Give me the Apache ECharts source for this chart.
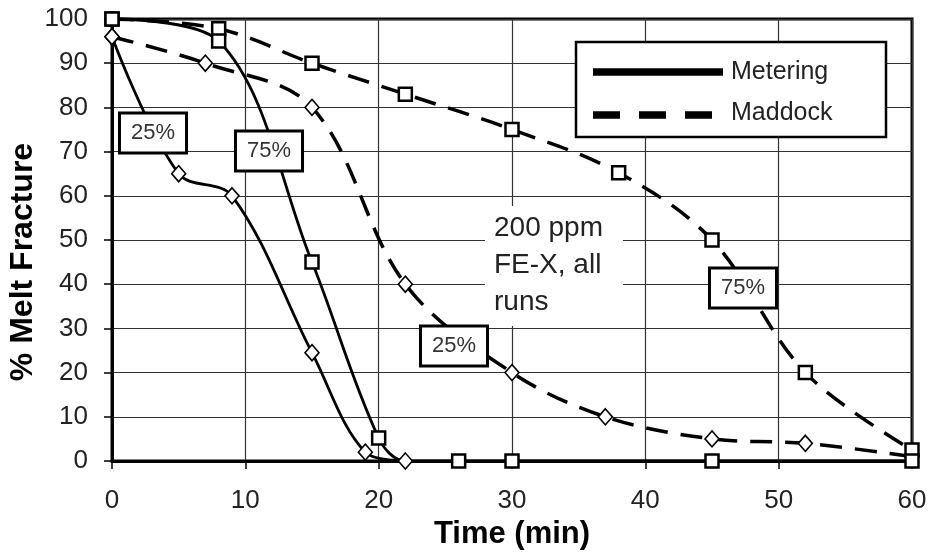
<!DOCTYPE html>
<html>
<head>
<meta charset="utf-8">
<script src="https://cdn.jsdelivr.net/npm/echarts@6/dist/echarts.min.js"></script>
<style>
  html, body { margin: 0; padding: 0; background: #fff; }
  #chart { width: 930px; height: 552px; }
</style>
</head>
<body>
<div id="chart"></div>
<script>
// axis ticks
var xTicks = [0, 10, 20, 30, 40, 50, 60];
var yTicks = [0, 10, 20, 30, 40, 50, 60, 70, 80, 90, 100];

// [time, % melt fracture]
var meteringLow = [[0, 96], [5, 65], [9, 60], [15, 24.5], [19, 2], [22, 0]];
var meteringHigh = [[0, 100], [8, 95], [15, 45], [20, 5.2], [22, 0, 'none'], [26, 0], [30, 0], [45, 0], [60, 0]];
var maddockLow = [[0, 96], [7, 90], [15, 80], [22, 40], [30, 20], [37, 10], [45, 5], [52, 4], [60, 1, 'none']];
var maddockHigh = [[0, 100], [8, 97.8], [15, 90], [22, 83], [30, 75], [38, 65.2], [45, 50], [52, 20], [60, 2.5]];

var chart = echarts.init(document.getElementById('chart'));
var font = '"Liberation Sans", Arial, sans-serif';

function pts(arr) {
  return arr.map(function (p) {
    var d = { value: [p[0], p[1]] };
    if (p[2]) d.symbol = p[2];
    return d;
  });
}

function line(name, data, sym, dashed) {
  return {
    name: name,
    type: 'line',
    data: pts(data),
    smooth: 0.35,
    clip: false,
    symbol: sym,
    symbolSize: sym === 'rect' ? 13 : [14, 16],
    z: dashed ? 3 : 4,
    lineStyle: {
      color: '#000',
      width: dashed ? 3.5 : 2.8,
      type: dashed ? [22, 13] : 'solid'
    },
    itemStyle: {
      color: '#fff',
      borderColor: '#000',
      borderWidth: sym === 'rect' ? 2.5 : 1.6
    },
    emphasis: { disabled: true }
  };
}

function tag(txt, x, y) {
  return {
    type: 'text',
    x: x, y: y, z: 10,
    style: {
      text: txt,
      font: '22px ' + font,
      fill: '#333',
      align: 'center',
      verticalAlign: 'middle',
      backgroundColor: '#fff',
      borderColor: '#000',
      borderWidth: 3,
      padding: [8, 10, 7, 10]
    }
  };
}

var option = {
  animation: false,
  backgroundColor: '#fff',
  grid: {
    left: 112, right: 18, top: 19, bottom: 91,
    outerBoundsMode: 'none',
    containLabel: false,
    show: true,
    borderColor: '#000',
    borderWidth: 3
  },
  xAxis: {
    type: 'value',
    min: xTicks[0], max: xTicks[xTicks.length - 1], interval: 10,
    name: 'Time (min)',
    nameLocation: 'middle',
    nameGap: 54,
    nameTextStyle: { fontFamily: font, fontSize: 31, fontWeight: 'bold', color: '#000' },
    axisLine: { lineStyle: { color: '#000', width: 3 } },
    axisTick: { length: 8, lineStyle: { color: '#000', width: 1.5 } },
    axisLabel: { margin: 27, fontFamily: font, fontSize: 26, color: '#222' },
    splitLine: { lineStyle: { color: '#333', width: 1.2 } }
  },
  yAxis: {
    type: 'value',
    min: yTicks[0], max: yTicks[yTicks.length - 1], interval: 10,
    axisLine: { show: true, lineStyle: { color: '#000', width: 3 } },
    axisTick: { show: true, length: 8, lineStyle: { color: '#000', width: 1.5 } },
    axisLabel: { margin: 24, fontFamily: font, fontSize: 26, color: '#222' },
    splitLine: { lineStyle: { color: '#333', width: 1.2 } }
  },
  series: [
    line('Maddock 75%', maddockHigh, 'rect', true),
    line('Maddock 25%', maddockLow, 'diamond', true),
    line('Metering 25%', meteringLow, 'diamond', false),
    line('Metering 75%', meteringHigh, 'rect', false)
  ],
  graphic: [
    // y axis title
    {
      type: 'text', x: 23, y: 262, rotation: Math.PI / 2,
      style: {
        text: '% Melt Fracture', font: 'bold 32px ' + font, fill: '#000',
        align: 'center', verticalAlign: 'middle'
      }
    },
    // note in the middle
    {
      type: 'rect', z: 1,
      shape: { x: 485, y: 206, width: 138, height: 120 },
      style: { fill: '#fff' }
    },
    {
      type: 'text', x: 494, y: 210, z: 2,
      style: {
        text: '200 ppm\nFE-X, all\nruns', font: '28px ' + font, fill: '#222',
        lineHeight: 37
      }
    },
    tag('25%', 153, 133),
    tag('75%', 269, 151),
    tag('25%', 454, 346),
    tag('75%', 743, 288),
    // legend
    {
      type: 'rect', z: 10,
      shape: { x: 576, y: 42, width: 310, height: 95 },
      style: { fill: '#fff', stroke: '#000', lineWidth: 2.5 }
    },
    {
      type: 'line', z: 11,
      shape: { x1: 593, y1: 72, x2: 723, y2: 72 },
      style: { stroke: '#000', lineWidth: 7.5 }
    },
    {
      type: 'line', z: 11,
      shape: { x1: 593, y1: 115, x2: 712, y2: 115 },
      style: { stroke: '#000', lineWidth: 7.5, lineDash: [27, 19] }
    },
    {
      type: 'text', x: 731, y: 72, z: 11,
      style: { text: 'Metering', font: '25px ' + font, fill: '#222', verticalAlign: 'middle' }
    },
    {
      type: 'text', x: 731, y: 113, z: 11,
      style: { text: 'Maddock', font: '25px ' + font, fill: '#222', verticalAlign: 'middle' }
    }
  ]
};

chart.setOption(option);
</script>
</body>
</html>
